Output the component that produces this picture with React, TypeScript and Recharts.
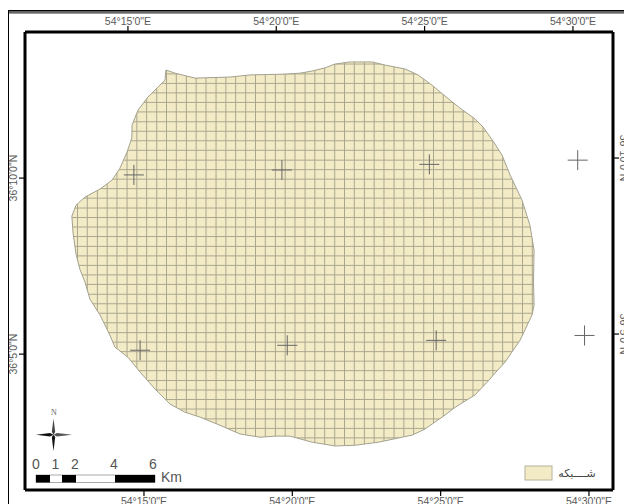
import { ComposedChart, Area, Line, XAxis, YAxis } from 'recharts'

// all positions are minutes past 54 deg E / 36 deg N
const lonTicks = [15, 20, 25, 30]
const latTicks = [5, 10]
const bottomDomain = [10.99, 30.81]
const topDomain = [11.53, 31.35]
const leftDomain = [1.14, 14.15]
const rightDomain = [0.57, 13.58]

const upperEdgeLon = [12.57, 12.71, 13.01, 13.52, 13.92, 14.19, 14.43, 14.59, 14.6, 14.8, 15.13, 15.54, 15.71, 15.74, 16.05, 16.72, 17.9, 18.57, 19.62, 20.26, 20.66, 21.1, 21.44, 21.95, 22.69, 23.13, 23.8, 24.24, 24.71, 25.15, 25.65, 26.16, 26.43, 26.77, 27.07, 27.34, 27.74, 28.01, 28.15, 28.13, 28.15]
const upperEdgeLat = [8.92, 9.23, 9.46, 9.69, 9.94, 10.28, 10.74, 11.14, 11.51, 11.93, 12.3, 12.64, 12.78, 13.07, 12.98, 12.84, 12.87, 12.93, 12.95, 12.98, 13.04, 13.13, 13.24, 13.3, 13.3, 13.21, 13.1, 12.93, 12.64, 12.33, 11.99, 11.68, 11.45, 11.05, 10.65, 10.09, 9.38, 8.66, 7.95, 7.05, 6.39]
const lowerEdgeLon = [12.57, 12.61, 12.71, 12.84, 13.01, 13.18, 13.52, 13.85, 14.02, 14.46, 14.87, 15.37, 15.88, 16.38, 16.89, 17.56, 18.24, 18.91, 19.42, 19.92, 20.66, 21.44, 22.11, 22.92, 24.04, 24.47, 25.15, 25.49, 26.16, 26.63, 26.8, 27.17, 27.68, 28.08, 28.15]
const lowerEdgeLat = [8.92, 8.44, 7.84, 7.41, 7.05, 6.56, 6.11, 5.54, 5.2, 4.91, 4.49, 4.01, 3.58, 3.35, 3.21, 2.98, 2.73, 2.64, 2.67, 2.67, 2.5, 2.39, 2.41, 2.5, 2.7, 2.87, 3.27, 3.49, 3.84, 4.26, 4.43, 4.77, 5.4, 6.11, 6.39]

const gridLons = [12.76, 13.09, 13.43, 13.76, 14.09, 14.43, 14.76, 15.09, 15.43, 15.76, 16.09, 16.43, 16.76, 17.09, 17.43, 17.76, 18.09, 18.43, 18.76, 19.09, 19.43, 19.76, 20.09, 20.43, 20.76, 21.09, 21.43, 21.76, 22.09, 22.43, 22.76, 23.09, 23.43, 23.76, 24.09, 24.43, 24.76, 25.09, 25.43, 25.76, 26.09, 26.43, 26.76, 27.09, 27.43, 27.76, 28.09]
const gridLats = [2.62, 2.89, 3.16, 3.44, 3.71, 3.98, 4.25, 4.53, 4.8, 5.07, 5.34, 5.61, 5.89, 6.16, 6.43, 6.7, 6.98, 7.25, 7.52, 7.79, 8.06, 8.34, 8.61, 8.88, 9.15, 9.43, 9.7, 9.97, 10.24, 10.51, 10.79, 11.06, 11.33, 11.6, 11.88, 12.15, 12.42, 12.69, 12.96, 13.24]

const crossLon = [14.66, 19.65, 24.62, 29.62, 14.87, 19.83, 24.85, 29.85]
const crossLat = [10.09, 10.23, 10.39, 10.51, 5.11, 5.25, 5.39, 5.53]

const scaleKm = [0, 1, 2, 4, 6]
const legendLabel = 'شــــبکه'

const TAN = '#f3ebc6'
const GRID = '#aaa78f'
const EDGE = '#a3a18e'
const LABEL = '#5a5a5a'

const upperRows = upperEdgeLon.map((lon, i) => ({ lon, lat: upperEdgeLat[i] }))
const lowerRows = lowerEdgeLon.map((lon, i) => ({ lon, lat: lowerEdgeLat[i] }))
const crossRows = crossLon.map((lon, i) => ({ lon, lat: crossLat[i] }))

// the tan block covers the map area, white masks then cut away what is outside the edge
const blockRows = [
  { lon: 12.4, range: [2.2, 13.5] },
  { lon: 28.4, range: [2.2, 13.5] },
]
const upperMask = [
  { lon: bottomDomain[0], lat: upperEdgeLat[0] },
  ...upperRows,
  { lon: bottomDomain[1], lat: upperEdgeLat[upperEdgeLat.length - 1] },
].map((r) => ({ lon: r.lon, range: [r.lat, leftDomain[1]] }))
const lowerMask = [
  { lon: bottomDomain[0], lat: lowerEdgeLat[0] },
  ...lowerRows,
  { lon: bottomDomain[1], lat: lowerEdgeLat[lowerEdgeLat.length - 1] },
].map((r) => ({ lon: r.lon, range: [leftDomain[0], r.lat] }))

const lonLabel = (v: number) => `54°${v}'0"E`
const latLabel = (v: number) => `36°${v}'0"N`

const TopTick = ({ x, y, payload }: any) => (
  <text x={x} y={25} textAnchor="middle" fontSize={10.5} fill={LABEL}>
    {lonLabel(payload.value)}
  </text>
)
const BottomTick = ({ x, y, payload }: any) => (
  <text x={x} y={505} textAnchor="middle" fontSize={10.5} fill={LABEL}>
    {lonLabel(payload.value)}
  </text>
)
const LeftTick = ({ x, y, payload }: any) => (
  <text x={17.5} y={y} transform={`rotate(-90 17.5 ${y})`} textAnchor="middle" fontSize={10.5} fill={LABEL}>
    {latLabel(payload.value)}
  </text>
)
const RightTick = ({ x, y, payload }: any) => (
  <text x={620} y={y} transform={`rotate(90 620 ${y})`} textAnchor="middle" fontSize={10.5} fill={LABEL}>
    {latLabel(payload.value)}
  </text>
)

const Cross = ({ cx, cy, key }: any) => (
  <g key={key}>
    <line x1={cx - 10} x2={cx + 10} y1={cy} y2={cy} stroke="#666" strokeWidth={1} />
    <line x1={cx} x2={cx} y1={cy - 10} y2={cy + 10} stroke="#666" strokeWidth={1} />
  </g>
)

const axisLine = { stroke: '#000', strokeWidth: 3 }
const tickLine = { stroke: '#000', strokeWidth: 1.2 }

const Overlay = () => {
  const kmX = (km: number) => 36 + km * 19.5
  return (
    <svg width={624} height={504} style={{ position: 'absolute', left: 0, top: 0, pointerEvents: 'none' }}>
      {/* page frame */}
      <rect x={8} y={10} width={616} height={1.6} fill="#000" />
      <rect x={8} y={12.4} width={616} height={1} fill="#000" />
      <rect x={8} y={10} width={1} height={494} fill="#000" />

      {/* north arrow */}
      <text x={54} y={415} textAnchor="middle" fontSize={8} fontFamily="Liberation Serif" fill="#666">N</text>
      <polygon points="53.5,418.5 55.2,432 53.5,434.7 51.8,432" fill="#444" />
      <polygon points="53.5,451 55.2,437 53.5,434.7 51.8,437" fill="#111" />
      <polygon points="36,434.7 50,433 53.5,434.7 50,436.4" fill="#111" />
      <polygon points="72,434.7 57,433 53.5,434.7 57,436.4" fill="#555" />

      {/* scale bar */}
      <rect x={36} y={475} width={119} height={7.5} fill="#fff" stroke="#555" strokeWidth={0.5} />
      <rect x={36} y={475} width={14} height={7.5} fill="#000" />
      <rect x={62} y={475} width={14} height={7.5} fill="#000" />
      <rect x={115} y={475} width={40} height={7.5} fill="#000" />
      {scaleKm.map((km) => (
        <text key={km} x={kmX(km)} y={469} textAnchor="middle" fontSize={14} fill="#555">{km}</text>
      ))}
      <text x={161} y={482} fontSize={14} fill="#555">Km</text>

      {/* legend */}
      <rect x={525} y={466} width={27} height={14} fill={TAN} stroke="#b5b29c" strokeWidth={1} />
      <text x={577} y={477} textAnchor="middle" fontSize={11} fontFamily="DejaVu Sans" fill="#444" direction="rtl">
        {legendLabel}
      </text>
    </svg>
  )
}

const App = () => {
  return (
    <div style={{ position: 'absolute', left: 0, top: 0, width: 624, height: 504, overflow: 'hidden', background: '#fff', fontFamily: 'Liberation Sans, Arial, sans-serif' }}>
      <ComposedChart width={624} height={504} margin={{ top: 0, right: 0, bottom: 0, left: 0 }}>
        <XAxis xAxisId="bottom" dataKey="lon" type="number" orientation="bottom" height={14} domain={bottomDomain} ticks={lonTicks} allowDataOverflow interval={0} tick={<BottomTick />} axisLine={axisLine} tickLine={tickLine} />
        <XAxis xAxisId="top" dataKey="lon" type="number" orientation="top" height={32} domain={topDomain} ticks={lonTicks} allowDataOverflow interval={0} tick={<TopTick />} axisLine={axisLine} tickLine={tickLine} />
        <YAxis yAxisId="left" type="number" orientation="left" width={25} domain={leftDomain} ticks={latTicks} allowDataOverflow interval={0} tick={<LeftTick />} axisLine={axisLine} tickLine={tickLine} />
        <YAxis yAxisId="right" type="number" orientation="right" width={11} domain={rightDomain} ticks={latTicks} allowDataOverflow interval={0} tick={<RightTick />} axisLine={axisLine} tickLine={tickLine} />

        <Area zIndex={10} xAxisId="bottom" yAxisId="left" data={blockRows} dataKey="range" fill={TAN} fillOpacity={1} stroke="none" isAnimationActive={false} />
        {gridLons.map((lon) => (
          <Line zIndex={20} key={`v${lon}`} xAxisId="bottom" yAxisId="left" data={[{ lon, lat: 2.2 }, { lon, lat: 13.5 }]} dataKey="lat" stroke={GRID} strokeWidth={1} dot={false} isAnimationActive={false} />
        ))}
        {gridLats.map((lat) => (
          <Line zIndex={20} key={`h${lat}`} xAxisId="bottom" yAxisId="left" data={[{ lon: 12.4, lat }, { lon: 28.4, lat }]} dataKey="lat" stroke={GRID} strokeWidth={1} dot={false} isAnimationActive={false} />
        ))}
        <Area zIndex={30} xAxisId="bottom" yAxisId="left" data={upperMask} dataKey="range" fill="#fff" fillOpacity={1} stroke="none" isAnimationActive={false} />
        <Area zIndex={30} xAxisId="bottom" yAxisId="left" data={lowerMask} dataKey="range" fill="#fff" fillOpacity={1} stroke="none" isAnimationActive={false} />
        <Line zIndex={40} xAxisId="bottom" yAxisId="left" data={upperRows} dataKey="lat" stroke={EDGE} strokeWidth={1} dot={false} isAnimationActive={false} />
        <Line zIndex={40} xAxisId="bottom" yAxisId="left" data={lowerRows} dataKey="lat" stroke={EDGE} strokeWidth={1} dot={false} isAnimationActive={false} />
        <Line zIndex={50} xAxisId="bottom" yAxisId="left" data={crossRows} dataKey="lat" stroke="none" dot={Cross} isAnimationActive={false} />
      </ComposedChart>
      <Overlay />
    </div>
  )
}

export default App
